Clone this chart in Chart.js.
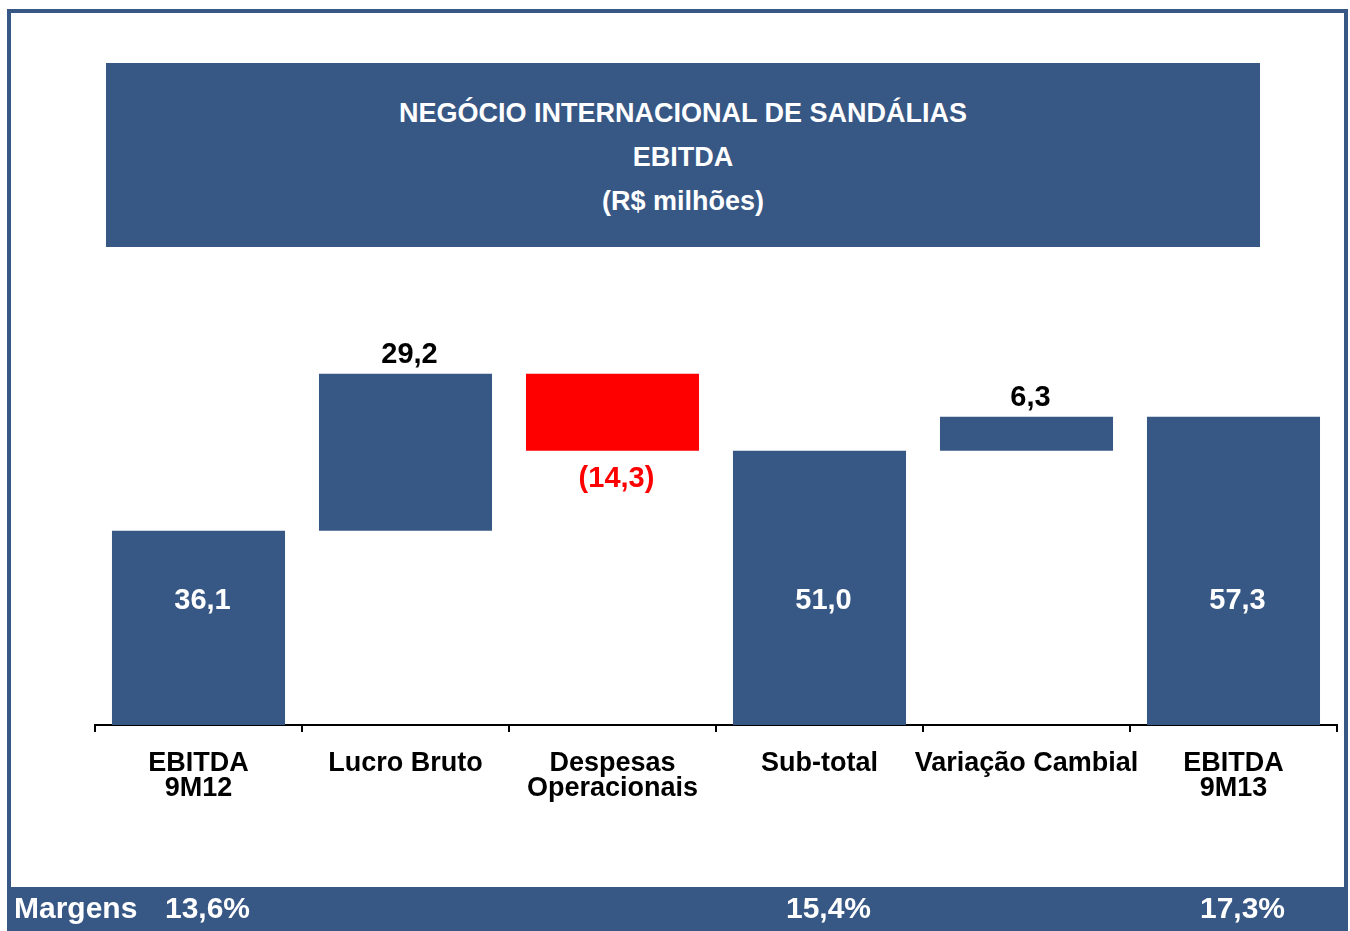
<!DOCTYPE html>
<html>
<head>
<meta charset="utf-8">
<script src="https://cdn.jsdelivr.net/npm/chart.js@4/dist/chart.umd.min.js"></script>
<style>
  html, body { margin: 0; padding: 0; background: #fff; overflow: hidden; }
  body { width: 1350px; height: 931px; position: relative; font-family: "Liberation Sans", Arial, sans-serif; }
  #frame { position: absolute; left: 7px; top: 9px; width: 1333px; height: 940px; border: 4px solid #375785; }
  #title { position: absolute; left: 106px; top: 63px; width: 1154px; height: 156px; padding-top: 28px;
           background: #375785; color: #fff; font-weight: bold; font-size: 27px; line-height: 44px;
           text-align: center; }
  #band { position: absolute; left: 7px; top: 887px; width: 1341px; height: 50px; background: #375785; }
  #chart { position: absolute; left: 0; top: 0; z-index: 2; }
</style>
</head>
<body>
<div id="frame"></div>
<div id="title">NEGÓCIO INTERNACIONAL DE SANDÁLIAS<br>EBITDA<br>(R$ milhões)</div>
<div id="band"></div>
<canvas id="chart" width="1350" height="931"></canvas>
<script>
const categories = [['EBITDA', '9M12'], 'Lucro Bruto', ['Despesas', 'Operacionais'], 'Sub-total', 'Variação Cambial', ['EBITDA', '9M13']];
const values = [36.1, 29.2, -14.3, 51.0, 6.3, 57.3];
const isTotal = [true, false, false, true, false, true];
const margins = [13.6, null, null, 15.4, null, 17.3];

const BLUE = '#375785';
const RED = '#ff0000';
const FONT = '"Liberation Sans", Arial, sans-serif';

// running total -> floating bars
const ranges = [];
let running = 0;
values.forEach((v, i) => {
  if (isTotal[i]) {
    ranges.push([0, v]);
    running = v;
  } else {
    ranges.push([running, running + v]);
    running += v;
  }
});

const fmt = (v) => {
  const s = Math.abs(v).toFixed(1).replace('.', ',');
  return v < 0 ? '(' + s + ')' : s;
};

const valueLabels = {
  id: 'valueLabels',
  afterDatasetsDraw(chart) {
    const ctx = chart.ctx;
    const meta = chart.getDatasetMeta(0);
    const y = chart.scales.y;
    ctx.save();
    ctx.font = 'bold 29px ' + FONT;
    ctx.textAlign = 'center';
    ctx.textBaseline = 'middle';
    meta.data.forEach((bar, i) => {
      const v = values[i];
      const x = bar.x + 4;
      const top = y.getPixelForValue(Math.max(ranges[i][0], ranges[i][1]));
      const bottom = y.getPixelForValue(Math.min(ranges[i][0], ranges[i][1]));
      if (isTotal[i]) {
        ctx.fillStyle = '#fff';
        ctx.fillText(fmt(v), x, y.getPixelForValue(23));
      } else if (v >= 0) {
        ctx.fillStyle = '#000';
        ctx.fillText(fmt(v), x, top - 19);
      } else {
        ctx.fillStyle = RED;
        ctx.fillText(fmt(v), x, bottom + 28);
      }
    });
    ctx.restore();
  },
  afterDraw(chart) {
    const ctx = chart.ctx;
    const xs = chart.scales.x;
    ctx.save();
    ctx.font = 'bold 30px ' + FONT;
    ctx.fillStyle = '#fff';
    ctx.textBaseline = 'middle';
    ctx.textAlign = 'left';
    ctx.fillText('Margens', 14, 910);
    ctx.textAlign = 'center';
    margins.forEach((m, i) => {
      if (m == null) return;
      ctx.fillText(m.toFixed(1).replace('.', ',') + '%', xs.getPixelForValue(i) + 9, 910);
    });
    ctx.restore();
  }
};

Chart.defaults.font.family = FONT;

new Chart(document.getElementById('chart'), {
  type: 'bar',
  data: {
    labels: categories,
    datasets: [{
      data: ranges,
      backgroundColor: values.map((v, i) => (!isTotal[i] && v < 0) ? RED : BLUE),
      borderWidth: 0,
      barPercentage: 0.836,
      categoryPercentage: 1
    }]
  },
  options: {
    responsive: false,
    animation: false,
    devicePixelRatio: 1,
    layout: { padding: { left: 95, right: 13, top: 327, bottom: 106 } },
    plugins: { legend: { display: false }, tooltip: { enabled: false } },
    scales: {
      x: {
        offset: true,
        grid: { display: true, offset: true, drawOnChartArea: false, drawTicks: true, tickLength: 7, color: '#000', lineWidth: 2 },
        border: { display: true, color: '#000', width: 2 },
        ticks: { color: '#000', padding: 19, maxRotation: 0, autoSkip: false,
                 font: { size: 27, weight: 'bold', lineHeight: 0.93 } },
        afterFit(scale) { scale.height = 100; }
      },
      y: { display: false, min: 0, max: 74 }
    }
  },
  plugins: [valueLabels]
});
</script>
</body>
</html>
